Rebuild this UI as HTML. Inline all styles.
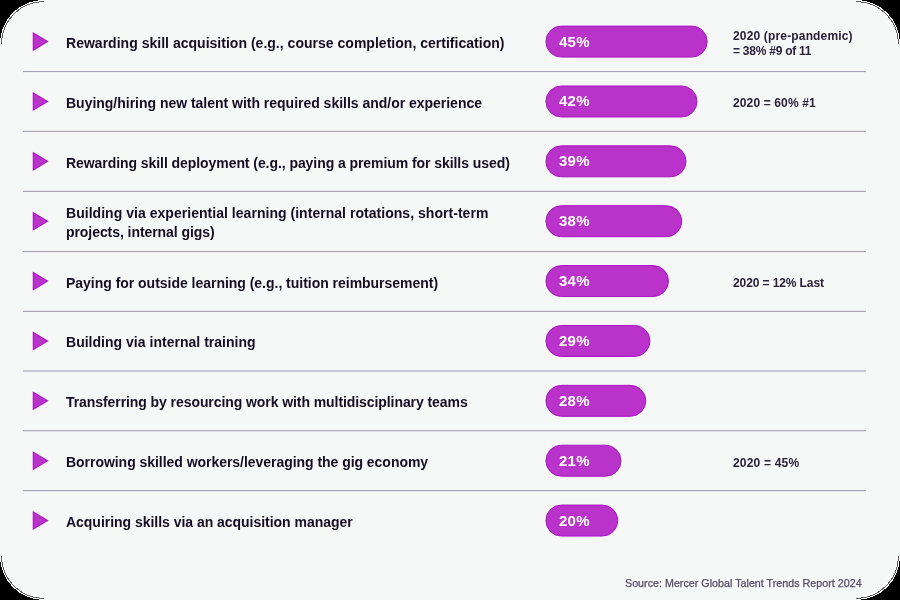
<!DOCTYPE html>
<html><head><meta charset="utf-8"><style>
html,body{margin:0;padding:0;width:900px;height:600px;overflow:hidden;background:#f6f7f7;}
svg{position:absolute;left:0;top:0;}
.lb,.pc,.an,.ft{position:absolute;will-change:transform;font-family:"Liberation Sans",sans-serif;white-space:nowrap;line-height:20px;}
.lb{font-size:14.0px;font-weight:700;color:#150e22;}
.pc{font-size:15.0px;font-weight:700;color:#fff;}
.an{font-size:12.0px;font-weight:700;color:#2a2238;}
.ft{font-size:10.7px;color:#554b66;-webkit-text-stroke:0.25px #554b66;}
</style></head><body>
<svg width="900" height="600" viewBox="0 0 900 600">
<polygon points="32.75,32.05 48.65,41.60 32.75,51.15" fill="#a914c3"/>
<polygon points="33.65,33.64 46.90,41.60 33.65,49.56" fill="#b932c9"/>
<rect x="544.9" y="25.10" width="163.30" height="33" rx="16.5" fill="none" stroke="#ffffff" stroke-opacity="0.6" stroke-width="1"/>
<rect x="545.9" y="26.10" width="161.30" height="31" rx="15.5" fill="#b932c9" stroke="#a914c3" stroke-width="1"/>
<rect x="23" y="71.00" width="843" height="1.1" fill="#a9a2b2"/>
<polygon points="32.75,91.92 48.65,101.47 32.75,111.02" fill="#a914c3"/>
<polygon points="33.65,93.51 46.90,101.47 33.65,109.43" fill="#b932c9"/>
<rect x="544.9" y="84.97" width="153.10" height="33" rx="16.5" fill="none" stroke="#ffffff" stroke-opacity="0.6" stroke-width="1"/>
<rect x="545.9" y="85.97" width="151.10" height="31" rx="15.5" fill="#b932c9" stroke="#a914c3" stroke-width="1"/>
<rect x="23" y="130.85" width="843" height="1.1" fill="#a9a2b2"/>
<polygon points="32.75,151.79 48.65,161.34 32.75,170.89" fill="#a914c3"/>
<polygon points="33.65,153.38 46.90,161.34 33.65,169.30" fill="#b932c9"/>
<rect x="544.9" y="144.84" width="142.10" height="33" rx="16.5" fill="none" stroke="#ffffff" stroke-opacity="0.6" stroke-width="1"/>
<rect x="545.9" y="145.84" width="140.10" height="31" rx="15.5" fill="#b932c9" stroke="#a914c3" stroke-width="1"/>
<rect x="23" y="190.85" width="843" height="1.1" fill="#a9a2b2"/>
<polygon points="32.75,211.66 48.65,221.21 32.75,230.76" fill="#a914c3"/>
<polygon points="33.65,213.25 46.90,221.21 33.65,229.17" fill="#b932c9"/>
<rect x="544.9" y="204.71" width="137.90" height="33" rx="16.5" fill="none" stroke="#ffffff" stroke-opacity="0.6" stroke-width="1"/>
<rect x="545.9" y="205.71" width="135.90" height="31" rx="15.5" fill="#b932c9" stroke="#a914c3" stroke-width="1"/>
<rect x="23" y="250.95" width="843" height="1.1" fill="#a9a2b2"/>
<polygon points="32.75,271.53 48.65,281.08 32.75,290.63" fill="#a914c3"/>
<polygon points="33.65,273.12 46.90,281.08 33.65,289.04" fill="#b932c9"/>
<rect x="544.9" y="264.58" width="124.60" height="33" rx="16.5" fill="none" stroke="#ffffff" stroke-opacity="0.6" stroke-width="1"/>
<rect x="545.9" y="265.58" width="122.60" height="31" rx="15.5" fill="#b932c9" stroke="#a914c3" stroke-width="1"/>
<rect x="23" y="310.85" width="843" height="1.1" fill="#a9a2b2"/>
<polygon points="32.75,331.40 48.65,340.95 32.75,350.50" fill="#a914c3"/>
<polygon points="33.65,332.99 46.90,340.95 33.65,348.91" fill="#b932c9"/>
<rect x="544.9" y="324.45" width="106.10" height="33" rx="16.5" fill="none" stroke="#ffffff" stroke-opacity="0.6" stroke-width="1"/>
<rect x="545.9" y="325.45" width="104.10" height="31" rx="15.5" fill="#b932c9" stroke="#a914c3" stroke-width="1"/>
<rect x="23" y="370.45" width="843" height="1.1" fill="#a9a2b2"/>
<polygon points="32.75,391.27 48.65,400.82 32.75,410.37" fill="#a914c3"/>
<polygon points="33.65,392.86 46.90,400.82 33.65,408.78" fill="#b932c9"/>
<rect x="544.9" y="384.32" width="101.90" height="33" rx="16.5" fill="none" stroke="#ffffff" stroke-opacity="0.6" stroke-width="1"/>
<rect x="545.9" y="385.32" width="99.90" height="31" rx="15.5" fill="#b932c9" stroke="#a914c3" stroke-width="1"/>
<rect x="23" y="430.15" width="843" height="1.1" fill="#a9a2b2"/>
<polygon points="32.75,451.14 48.65,460.69 32.75,470.24" fill="#a914c3"/>
<polygon points="33.65,452.73 46.90,460.69 33.65,468.65" fill="#b932c9"/>
<rect x="544.9" y="444.19" width="77.10" height="33" rx="16.5" fill="none" stroke="#ffffff" stroke-opacity="0.6" stroke-width="1"/>
<rect x="545.9" y="445.19" width="75.10" height="31" rx="15.5" fill="#b932c9" stroke="#a914c3" stroke-width="1"/>
<rect x="23" y="490.05" width="843" height="1.1" fill="#a9a2b2"/>
<polygon points="32.75,511.01 48.65,520.56 32.75,530.11" fill="#a914c3"/>
<polygon points="33.65,512.60 46.90,520.56 33.65,528.52" fill="#b932c9"/>
<rect x="544.9" y="504.06" width="73.90" height="33" rx="16.5" fill="none" stroke="#ffffff" stroke-opacity="0.6" stroke-width="1"/>
<rect x="545.9" y="505.06" width="71.90" height="31" rx="15.5" fill="#b932c9" stroke="#a914c3" stroke-width="1"/>
<path d="M0,0 H44 A44,44 0 0 0 0,44 Z M900,0 V44 A44,44 0 0 0 856,0 Z M900,600 H856 A44,44 0 0 0 900,556 Z M0,600 V556 A44,44 0 0 0 44,600 Z" fill="#000" shape-rendering="crispEdges"/>
<path d="M44,0.5 A43.5,43.5 0 0 0 0.5,44 M856,0.5 A43.5,43.5 0 0 1 899.5,44 M899.5,556 A43.5,43.5 0 0 1 856,599.5 M0.5,556 A43.5,43.5 0 0 0 44,599.5" fill="none" stroke="#ffffff" stroke-width="1" shape-rendering="crispEdges"/>
<path d="M44,1.5 A42.5,42.5 0 0 0 1.5,44 M856,1.5 A42.5,42.5 0 0 1 898.5,44 M898.5,556 A42.5,42.5 0 0 1 856,598.5 M1.5,556 A42.5,42.5 0 0 0 44,598.5" fill="none" stroke="#585858" stroke-width="1" shape-rendering="crispEdges"/>
<path d="M44,2.5 A41.5,41.5 0 0 0 2.5,44 M856,2.5 A41.5,41.5 0 0 1 897.5,44 M897.5,556 A41.5,41.5 0 0 1 856,597.5 M2.5,556 A41.5,41.5 0 0 0 44,597.5" fill="none" stroke="#ffffff" stroke-width="1" shape-rendering="crispEdges"/>
</svg>
<div class="lb" id="l0" style="left:66.00px;top:33.10px;letter-spacing:0.019px">Rewarding skill acquisition (e.g., course completion, certification)</div>
<div class="pc" id="p0" style="left:559.00px;top:31.60px;letter-spacing:0.250px">45%</div>
<div class="an" id="a0a" style="left:732.60px;top:26.10px;letter-spacing:0.161px">2020 (pre-pandemic)</div>
<div class="an" id="a0b" style="left:732.60px;top:41.30px;letter-spacing:-0.246px">= 38% #9 of 11</div>
<div class="lb" id="l1" style="left:66.00px;top:92.97px;letter-spacing:-0.016px">Buying/hiring new talent with required skills and/or experience</div>
<div class="pc" id="p1" style="left:559.00px;top:91.47px;letter-spacing:0.250px">42%</div>
<div class="an" id="a1" style="left:732.60px;top:93.47px;letter-spacing:0.133px">2020 = 60% #1</div>
<div class="lb" id="l2" style="left:66.00px;top:152.84px;letter-spacing:-0.065px">Rewarding skill deployment (e.g., paying a premium for skills used)</div>
<div class="pc" id="p2" style="left:559.00px;top:151.34px;letter-spacing:0.250px">39%</div>
<div class="lb" id="l3a" style="left:66.00px;top:203.16px;letter-spacing:0.035px">Building via experiential learning (internal rotations, short-term</div>
<div class="lb" id="l3b" style="left:66.00px;top:222.26px;letter-spacing:-0.065px">projects, internal gigs)</div>
<div class="pc" id="p3" style="left:559.00px;top:211.21px;letter-spacing:0.250px">38%</div>
<div class="lb" id="l4" style="left:66.00px;top:272.58px;letter-spacing:-0.023px">Paying for outside learning (e.g., tuition reimbursement)</div>
<div class="pc" id="p4" style="left:559.00px;top:271.08px;letter-spacing:0.250px">34%</div>
<div class="an" id="a4" style="left:732.60px;top:273.08px;letter-spacing:-0.100px">2020 = 12% Last</div>
<div class="lb" id="l5" style="left:66.00px;top:332.45px;letter-spacing:0.021px">Building via internal training</div>
<div class="pc" id="p5" style="left:559.00px;top:330.95px;letter-spacing:0.250px">29%</div>
<div class="lb" id="l6" style="left:66.00px;top:392.32px;letter-spacing:-0.075px">Transferring by resourcing work with multidisciplinary teams</div>
<div class="pc" id="p6" style="left:559.00px;top:390.82px;letter-spacing:0.250px">28%</div>
<div class="lb" id="l7" style="left:66.00px;top:452.19px;letter-spacing:-0.039px">Borrowing skilled workers/leveraging the gig economy</div>
<div class="pc" id="p7" style="left:559.00px;top:450.69px;letter-spacing:0.250px">21%</div>
<div class="an" id="a7" style="left:732.60px;top:452.69px;letter-spacing:0.189px">2020 = 45%</div>
<div class="lb" id="l8" style="left:66.00px;top:512.06px;letter-spacing:-0.029px">Acquiring skills via an acquisition manager</div>
<div class="pc" id="p8" style="left:559.00px;top:510.56px;letter-spacing:0.250px">20%</div>
<div class="ft" id="foot" style="left:624.60px;top:573.00px;letter-spacing:0.022px">Source: Mercer Global Talent Trends Report 2024</div>
</body></html>
